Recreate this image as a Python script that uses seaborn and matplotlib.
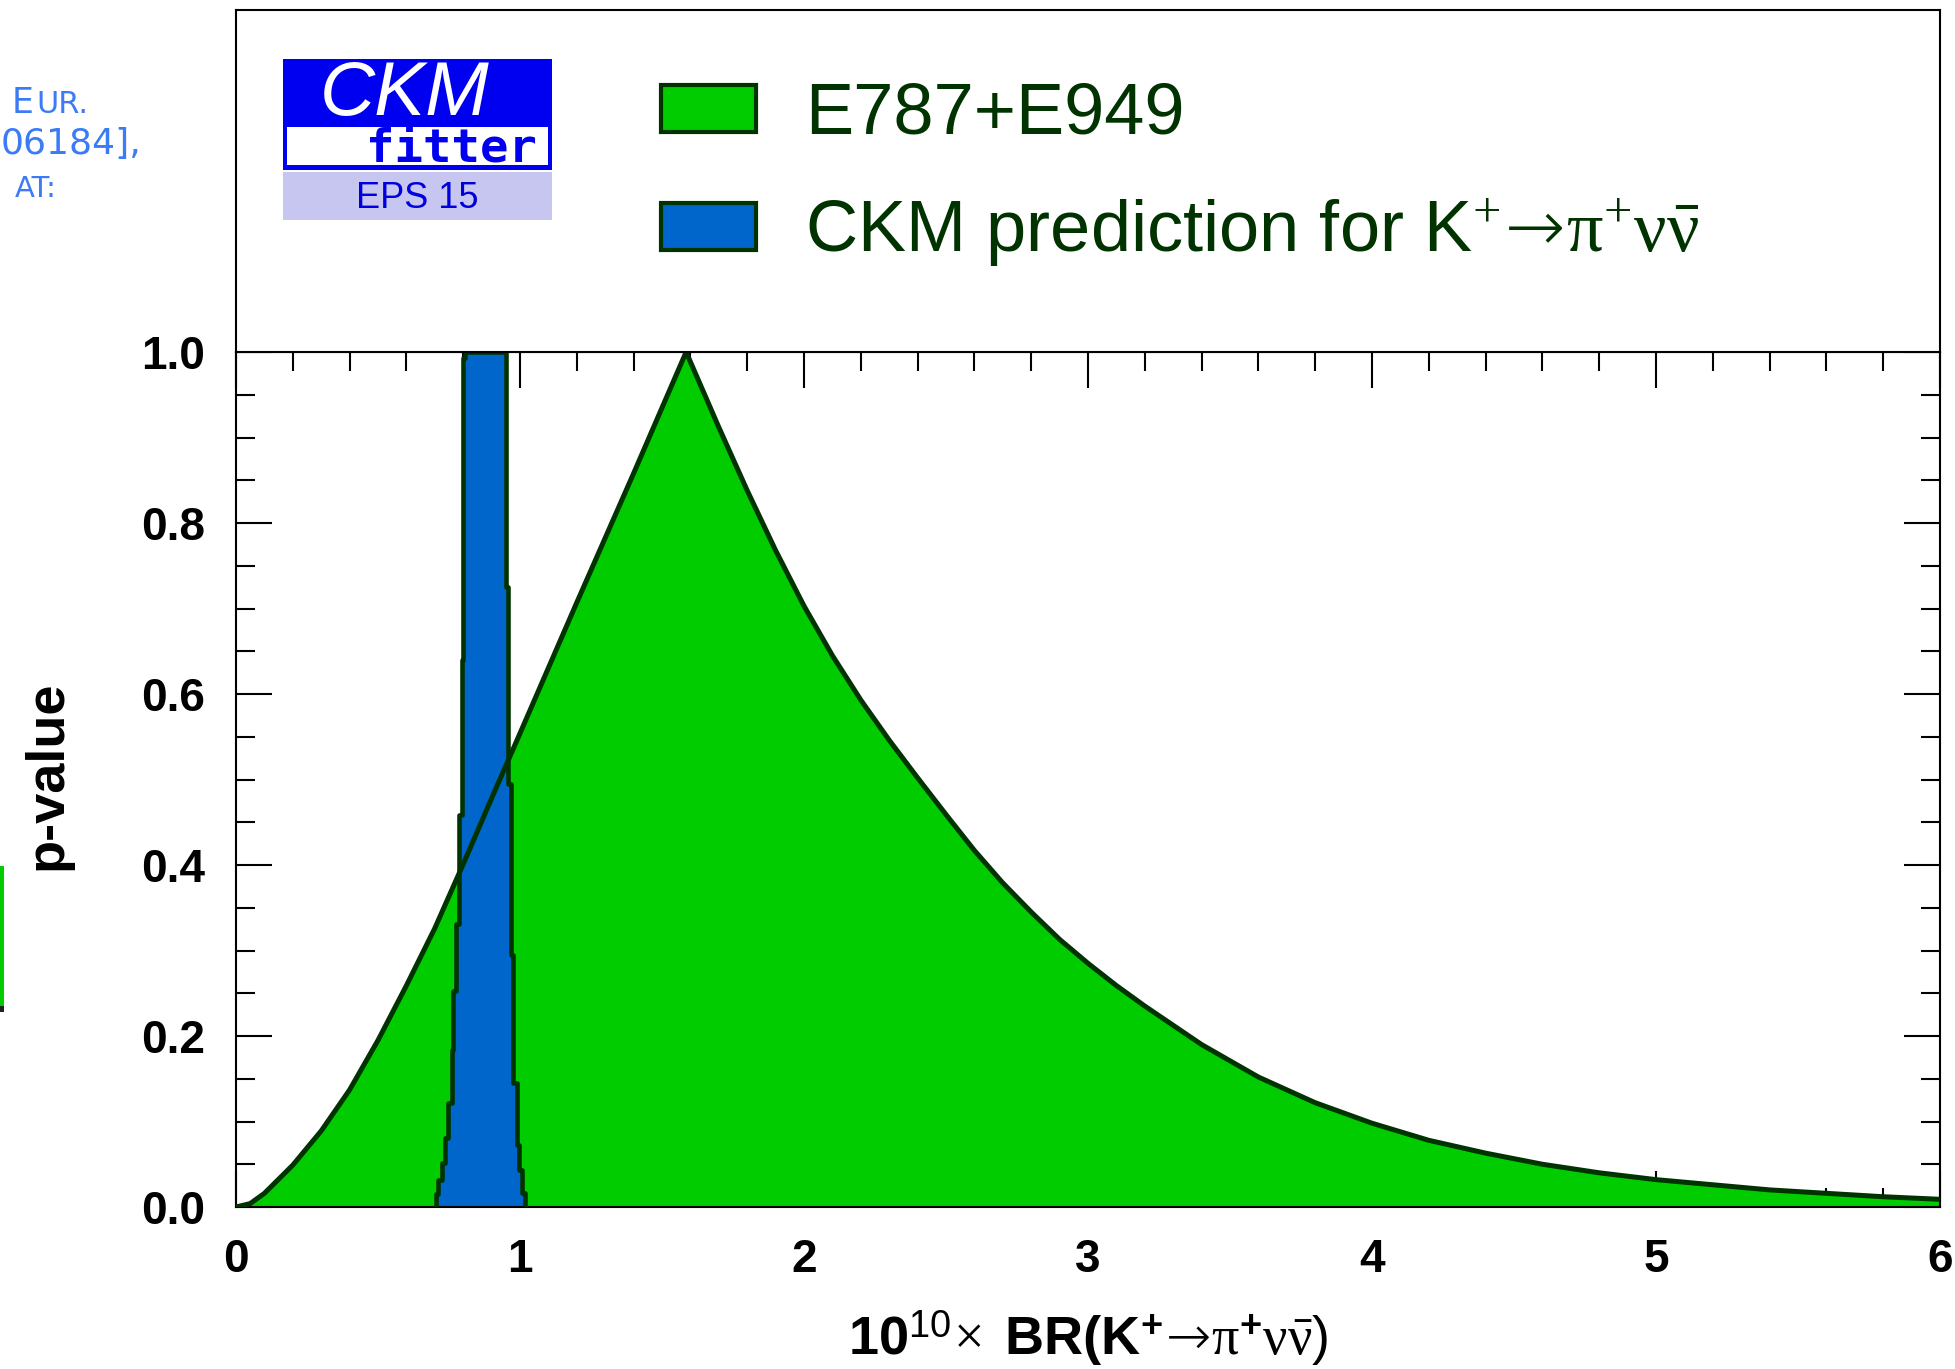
import matplotlib
matplotlib.use("Agg")
import matplotlib.pyplot as plt
import seaborn as sns
from matplotlib.patches import Patch, Rectangle
from matplotlib.ticker import MultipleLocator

# ---------------- data ----------------
exp_br = [0.00, 0.05, 0.10, 0.20, 0.30, 0.40, 0.50, 0.60, 0.70, 0.80, 0.90, 1.00,
          1.20, 1.40, 1.585, 1.70, 1.80, 1.90, 2.00, 2.10, 2.20, 2.30, 2.40, 2.50,
          2.60, 2.70, 2.80, 2.90, 3.00, 3.10, 3.20, 3.40, 3.60, 3.80, 4.00, 4.20,
          4.40, 4.60, 4.80, 5.00, 5.20, 5.40, 5.60, 5.80, 6.00]
exp_p = [0.000, 0.004, 0.016, 0.049, 0.089, 0.137, 0.195, 0.259, 0.326, 0.401, 0.478, 0.554,
         0.707, 0.858, 1.000, 0.912, 0.838, 0.768, 0.703, 0.645, 0.593, 0.546, 0.502, 0.459,
         0.417, 0.379, 0.345, 0.313, 0.285, 0.259, 0.235, 0.190, 0.152, 0.122, 0.098, 0.078,
         0.063, 0.050, 0.040, 0.032, 0.026, 0.020, 0.016, 0.012, 0.009]

ckm_br = [0.700, 0.704, 0.712, 0.724, 0.736, 0.748, 0.759, 0.763, 0.775, 0.786, 0.795,
          0.800, 0.806, 0.951, 0.959, 0.967, 0.976, 0.988, 0.997, 1.006, 1.018]
ckm_p = [0.000, 0.015, 0.032, 0.052, 0.081, 0.122, 0.184, 0.253, 0.331, 0.459, 0.640,
         0.993, 1.000, 0.725, 0.495, 0.295, 0.145, 0.073, 0.043, 0.016, 0.000]

series_labels = ["E787+E949",
                 r"CKM prediction for K$^{+}\!\mathcal{\rightarrow}\!\mathrm{\pi}^{+}\mathrm{\nu\bar{\nu}}$"]
x_ticks = [0, 1, 2, 3, 4, 5, 6]
y_ticks = [0.0, 0.2, 0.4, 0.6, 0.8, 1.0]
x_label = r"$\mathbf{10}^{\mathsf{10}}\!\times\ \mathbf{BR(K}^{\mathbf{+}}\!\mathcal{\rightarrow}\!\mathrm{\pi}^{\mathbf{+}}\mathrm{\nu\bar{\nu}}\mathsf{)}$"
y_label = "p-value"

# ---------------- style ----------------
sns.set_theme(style="ticks")
plt.rcParams['font.family'] = ['Liberation Sans', 'DejaVu Sans']
plt.rcParams['mathtext.fontset'] = 'custom'
plt.rcParams['mathtext.rm'] = 'Liberation Serif'
plt.rcParams['mathtext.sf'] = 'Liberation Sans'
plt.rcParams['mathtext.bf'] = 'Liberation Sans:bold'
plt.rcParams['mathtext.it'] = 'Liberation Serif:italic'
plt.rcParams['mathtext.cal'] = 'DejaVu Sans:light'

GREEN = '#00cc00'
BLUE = '#0066cc'
DARK = '#003300'

W, H = 1955, 1369
def fx(px):
    return px / W
def fy(py):
    return 1 - py / H

fig = plt.figure(figsize=(19.55, 13.69), dpi=100)
ax = fig.add_axes([fx(236), fy(1207), (1940 - 236) / W, (1207 - 352) / H])
axl = fig.add_axes([fx(236), fy(352), (1940 - 236) / W, (352 - 10) / H])

# ---------------- curves ----------------
ax.fill_between(exp_br, exp_p, 0, color=GREEN, lw=0, zorder=1)
ax.fill_between(ckm_br, ckm_p, 0, step='post', color=BLUE, lw=0, zorder=2)
sns.lineplot(x=ckm_br, y=ckm_p, ax=ax, drawstyle='steps-post', color=DARK, lw=3.3,
             estimator=None, sort=False, zorder=3)
sns.lineplot(x=exp_br, y=exp_p, ax=ax, color=DARK, lw=3.6,
             estimator=None, sort=False, zorder=4)

ax.set_xlim(0, 6)
ax.set_ylim(0, 1)
ax.set_xticks(x_ticks)
ax.set_xticklabels([str(t) for t in x_ticks], fontweight='bold')
ax.set_yticks(y_ticks)
ax.set_yticklabels(['%.1f' % t for t in y_ticks], fontweight='bold')
ax.xaxis.set_minor_locator(MultipleLocator(0.2))
ax.yaxis.set_minor_locator(MultipleLocator(0.05))
ax.tick_params(which='both', direction='in', top=True, right=True, width=1.5,
               color='black', labelcolor='black', labelsize=33)
ax.tick_params(which='major', length=26)
ax.tick_params(which='minor', length=13.5)
ax.tick_params(axis='x', which='major', pad=22)
ax.tick_params(axis='y', which='major', pad=22)
for s in ax.spines.values():
    s.set_visible(True)
    s.set_linewidth(1.5)
    s.set_color('black')

ax.set_xlabel(x_label, fontsize=39, color='black')
ax.xaxis.set_label_coords(0.5, -0.118)
ax.set_ylabel(y_label, fontsize=39, fontweight='bold', color='black')
ax.yaxis.set_label_coords(-0.096, 0.505)

# ---------------- legend frame ----------------
axl.set_xticks([])
axl.set_yticks([])
axl.set_facecolor('white')
for s in axl.spines.values():
    s.set_visible(True)
    s.set_linewidth(1.5)
    s.set_color('black')

handles = [Patch(facecolor=GREEN, edgecolor=DARK, lw=3),
           Patch(facecolor=BLUE, edgecolor=DARK, lw=3)]
leg = fig.legend(handles, series_labels, loc='upper left',
                 bbox_to_anchor=(fx(661), fy(82)), bbox_transform=fig.transFigure,
                 frameon=False, fontsize=52, handlelength=1.32, handleheight=0.625,
                 handletextpad=0.67, labelspacing=0.67, borderpad=0, borderaxespad=0)
for t in leg.get_texts():
    t.set_color(DARK)

# ---------------- CKMfitter logo ----------------
fig.patches.append(Rectangle((fx(283), fy(170)), (552 - 283) / W, (170 - 59) / H,
                             transform=fig.transFigure, fc='#0000f0', ec='none', zorder=5))
fig.patches.append(Rectangle((fx(287), fy(165)), (548 - 287) / W, (165 - 127) / H,
                             transform=fig.transFigure, fc='white', ec='none', zorder=6))
fig.patches.append(Rectangle((fx(283), fy(220)), (552 - 283) / W, (220 - 172) / H,
                             transform=fig.transFigure, fc='#c6c6f0', ec='none', zorder=5))
fig.text(fx(405), fy(95), "CKM", color='white', fontsize=55, style='italic',
         ha='center', va='center', zorder=7)
fig.text(fx(451), fy(149), "fitter", family='DejaVu Sans Mono', fontweight='bold',
         fontsize=34, color='#0000ee', ha='center', va='center', zorder=7)
fig.text(fx(417), fy(199), "EPS 15", fontsize=26, color='#0000dd',
         ha='center', va='center', zorder=7)

# ---------------- slide remnants at left edge ----------------
LB = '#3b7bf5'
fig.text(fx(12), fy(113), "E", family='DejaVu Sans', fontsize=25, color=LB, va='baseline')
fig.text(fx(36), fy(113), "UR.", family='DejaVu Sans', fontsize=22, color=LB, va='baseline')
fig.text(fx(1), fy(154), "06184],", family='DejaVu Sans', fontsize=26, color=LB,
         ha='left', va='baseline')
fig.text(fx(15), fy(197), "AT:", family='DejaVu Sans', fontsize=21, color=LB,
         ha='left', va='baseline')
fig.patches.append(Rectangle((0, fy(1008)), 4 / W, (1008 - 866) / H,
                             transform=fig.transFigure, fc=GREEN, ec='none'))
fig.patches.append(Rectangle((0, fy(1012)), 4 / W, 6 / H,
                             transform=fig.transFigure, fc='#222222', ec='none'))

fig.savefig("out.png", dpi=100)
